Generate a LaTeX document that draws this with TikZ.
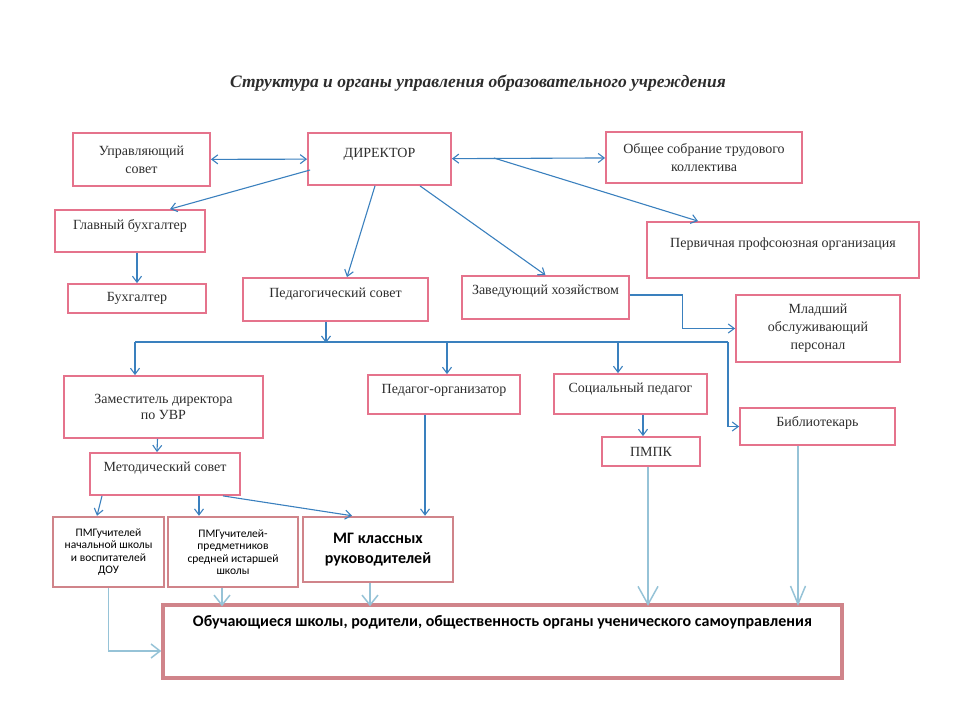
\documentclass[tikz,border=0pt]{standalone}
\usepackage{fontspec}
\setmainfont{Liberation Serif}
\newfontfamily\calfont{Carlito}
\usepackage{xcolor}
\usepackage{tikz}
\usetikzlibrary{arrows.meta,positioning,calc}
\definecolor{boxpink}{RGB}{229,115,140}
\definecolor{boxrose}{RGB}{208,132,138}
\definecolor{arrblue}{RGB}{58,128,190}
\definecolor{arrlight}{RGB}{150,195,215}
\definecolor{txtgray}{RGB}{45,45,45}

\begin{document}
\begin{tikzpicture}[
  x=1pt, y=-1pt,
  box/.style={draw=boxpink, line width=1.8pt, align=center, inner sep=2pt, text=txtgray, font=\fontsize{14}{18}\selectfont},
  lowbox/.style={draw=boxrose, line width=2.5pt, align=center, inner sep=2pt, font=\calfont\fontsize{11.5}{12.5}\selectfont},
  boxwh/.style 2 args={minimum width=#1pt, minimum height=#2pt},
  txtup/.style={text height=10pt, text depth=#1},
  arr/.style={-{Straight Barb[length=6pt,width=9pt]}, draw=arrblue, line width=1.1pt},
  darr/.style={{Straight Barb[length=6pt,width=9pt]}-{Straight Barb[length=6pt,width=9pt]}, draw=arrblue, line width=1.1pt},
  larr/.style 2 args={-{Straight Barb[length=#1pt,width=#2pt]}, draw=arrlight, line width=1.5pt}
]
  \useasboundingbox (0,0) rectangle (975,712);
  \node[font=\bfseries\itshape\fontsize{17.5}{20}\selectfont, text=txtgray] (title) at (478,83) {Структура и органы управления образовательного учреждения};

  \node[box, boxwh={137}{53}] (upr) at (141.5,159.5) {Управляющий\\совет};
  \node[box, boxwh={143}{52}, txtup=14pt] (dir) at (379.5,159) {ДИРЕКТОР};
  \node[box, boxwh={196}{51}] (obsh) at (704,157.5) {Общее собрание трудового\\коллектива};
  \node[box, boxwh={150}{42}, txtup=14pt] (glbuh) at (130,231) {Главный бухгалтер};
  \node[box, boxwh={138}{29}] (buh) at (137,298.5) {Бухгалтер};
  \node[box, boxwh={185}{43}, txtup=15pt] (pedsov) at (335.5,299.5) {Педагогический совет};
  \node[box, boxwh={167}{43}, txtup=17pt] (zavhoz) at (545.5,297.5) {Заведующий хозяйством};
  \node[box, boxwh={272}{56}, txtup=16pt] (perv) at (783,250) {Первичная профсоюзная организация};
  \node[box, boxwh={164}{67}] (mlad) at (818,328.5) {Младший\\обслуживающий\\персонал};
  \node[box, boxwh={199}{62}, font=\fontsize{14}{16}\selectfont] (zam) at (163.5,407) {Заместитель директора\\по УВР};
  \node[box, boxwh={150}{42}, txtup=16pt] (metod) at (165,474) {Методический совет};
  \node[box, boxwh={152}{39}, txtup=13pt] (pedorg) at (444,394.5) {Педагог-организатор};
  \node[box, boxwh={153}{40}, txtup=14pt] (socped) at (630.5,394) {Социальный педагог};
  \node[box, boxwh={98}{29}] (pmpk) at (651,451.5) {ПМПК};
  \node[box, boxwh={155}{37}, txtup=11pt] (bibl) at (817.5,426.5) {Библиотекарь};

  \node[lowbox, boxwh={111}{70}] (pmg1) at (108.5,552) {ПМГучителей\\начальной школы\\и воспитателей\\ДОУ};
  \node[lowbox, boxwh={130}{70}] (pmg2) at (233,552) {ПМГучителей-\\предметников\\средней истаршей\\школы};
  \node[lowbox, boxwh={150}{65}, font=\calfont\bfseries\fontsize{16}{20}\selectfont] (mg) at (378,549.5) {МГ классных\\руководителей};
  \node[lowbox, line width=3.5pt, boxwh={679}{73}, txtup=40pt, font=\calfont\bfseries\fontsize{16}{18}\selectfont] (bottom) at (502.5,641.5) {Обучающиеся школы, родители, общественность органы ученического самоуправления};

  \coordinate (busl) at (135,342);
  \coordinate (busr) at (728,342);

  \draw[darr] (upr) -- (dir);
  \draw[darr] (dir) -- (obsh);
  \draw[arr] ($(dir.west)+(3,11)$) -- ($(glbuh.north)+(40,0)$);
  \draw[arr] ($(dir.south)+(-4.5,0)$) -- ($(pedsov.north)+(11.5,0)$);
  \draw[arr] ($(dir.south)+(40.5,0)$) -- (zavhoz.north);
  \draw[arr] ($(dir.east)+(42,-1)$) -- ($(perv.north)+(-85,0)$);
  \draw[arr] (glbuh.south -| buh.north) -- (buh.north);
  \draw[arr] ($(zavhoz.east)+(0,-2.5)$) -- ++(53,0) |- (mlad.west);

  \draw[arr] ($(pedsov.south)+(-9.5,0)$) -- ++(0,21);
  \draw[arrblue, line width=1.1pt] (busl) -- (busr);
  \draw[arr] (busl) -- (busl |- zam.north);
  \draw[arr] ($(pedorg.north)+(3,-33)$) -- ($(pedorg.north)+(3,0)$);
  \draw[arr] ($(socped.north)+(-12.5,-32)$) -- ($(socped.north)+(-12.5,0)$);
  \draw[arr] (busr) |- (bibl.west);

  \draw[arr] ($(zam.south)+(-6,0)$) -- ($(metod.north)+(-8,0)$);
  \draw[arr] ($(socped.south)+(12.5,0)$) -- ($(pmpk.north)+(-8,0)$);
  \draw[arr] ($(metod.south)+(-63,0)$) -- ($(pmg1.north)+(-11.5,0)$);
  \draw[arr] ($(metod.south)+(34,0)$) -- ($(pmg2.north)+(-34,0)$);
  \draw[arr] ($(metod.south)+(58,0)$) -- ($(mg.north)+(-26,0)$);
  \draw[arr] ($(pedorg.south)+(-19,0)$) -- ($(mg.north)+(47,0)$);

  \draw[larr={9}{14}] (pmg1.south) |- ($(bottom.west)+(0,9.5)$);
  \draw[larr={10}{16}] ($(pmg2.south)+(-11,0)$) -- ++(0,18);
  \draw[larr={10}{16}] ($(mg.south)+(-8,0)$) -- ++(0,23);
  \draw[larr={18}{20}] ($(pmpk.south)+(-3,0)$) -- ++(0,139);
  \draw[larr={18}{15}] ($(bibl.south)+(-19.5,0)$) -- ++(0,160);
\end{tikzpicture}
\end{document}
